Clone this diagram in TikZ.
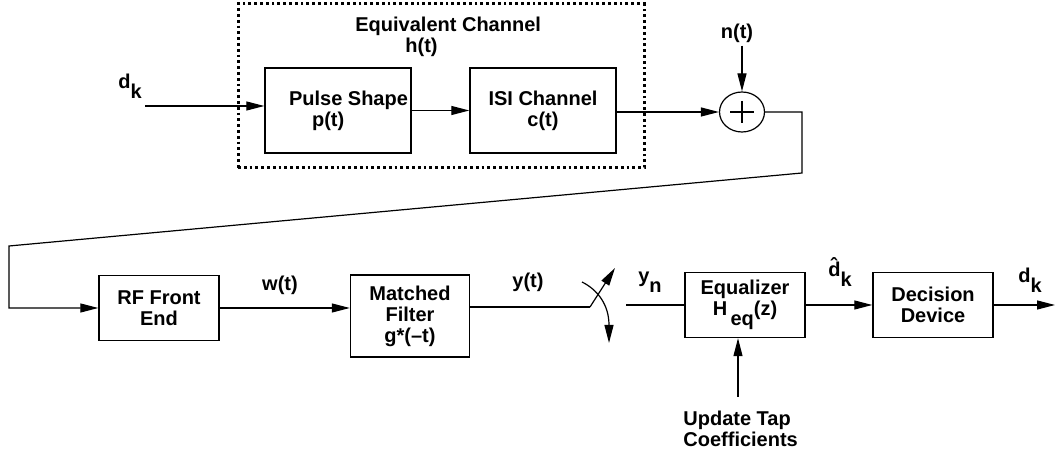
\documentclass[tikz,border=0pt]{standalone}
\usepackage{fontspec}
\setmainfont{Liberation Sans}
\usetikzlibrary{arrows.meta, positioning, calc, shapes.geometric}
\newcommand{\sublow}[1]{\raisebox{-0.5em}{#1}}
\tikzset{
  box/.style={draw, line width=0.7pt, inner sep=0pt, minimum height=32.5pt, minimum width=60pt, align=center, font=\bfseries\fontsize{10}{10.5}\selectfont},
  bigbox/.style={box, minimum height=42.5pt, minimum width=73pt},
  chanbox/.style={draw, line width=1.5pt, dash pattern=on 1.4pt off 1.5pt, minimum width=203pt, minimum height=82pt},
  sumnode/.style={draw, ellipse, line width=0.6pt, minimum width=22.5pt, minimum height=20pt, inner sep=0pt},
  arr/.style={-{Triangle[length=9pt, width=4.5pt]}, line width=0.6pt},
  wire/.style={line width=0.6pt},
  lbl/.style={font=\bfseries\fontsize{10}{10.5}\selectfont, inner sep=0pt, align=left},
}
\begin{document}
\begin{tikzpicture}[x=0.5pt, y=-0.5pt]
    \useasboundingbox (0,0) rectangle (1055,453);
    % transmitter and channel
    \node[chanbox] (chan) at (441,86) {};
    \node[lbl, anchor=north west] (chanlbl) at (355,17) {Equivalent Channel\\\hspace*{25pt}h(t)};
    \node[bigbox, align=left] (pulse) at (338,110.5) {\hspace*{10.5pt}Pulse Shape\\\hspace*{22pt}p(t)};
    \node[bigbox] (isi) at (543,110.5) {ISI Channel\\c(t)};
    \node[sumnode] (sum) at (742,112) {};
    \draw[wire] ($(sum.center)+(-12,0)$) -- ($(sum.center)+(12,0)$);
    \draw[wire] ($(sum.center)+(0,-11)$) -- ($(sum.center)+(0,11)$);
    \node[lbl] (dkin) at (130,86) {d\sublow{k}};
    \node[lbl] (nlbl) at (737,33) {n(t)};
    \coordinate (din) at (145,106);
    \draw[arr] (din) -- (din -| pulse.west);
    \draw[arr] (pulse) -- (isi);
    \draw[arr] (isi.east |- sum) -- (sum);
    \draw[arr] ($(nlbl.south -| sum)+(0,3)$) -- (sum);
    % wire down to the receiver
    \coordinate (bendA) at (802,112);
    \coordinate (bendB) at (802,173);
    \coordinate (bendC) at (9,246);
    \coordinate (bendD) at (9,308);
    % receiver
    \node[box] (rf) at (159,308) {RF Front\\End};
    \node[box, minimum height=41pt, minimum width=59.5pt] (matched) at (410,316) {Matched\\Filter\\g*(--t)};
    \node[box] (eq) at (745,305) {Equalizer\\H\,\sublow{eq}(z)};
    \node[box] (dec) at (933,305) {Decision\\Device};
    \draw[arr] (sum) -- (bendA) -- (bendB) -- (bendC) -- (bendD) -- (bendD -| rf.west);
    \draw[arr] (rf.east) -- (rf.east -| matched.west);
    \node[lbl] (wlbl) at (280,285) {w(t)};
    \node[lbl] (ylbl) at (528,282) {y(t)};
    % sampler
    \coordinate (swin) at (590,307);
    \coordinate (swtip) at (615,268);
    \coordinate (swa) at (582,282);
    \coordinate (swb) at (609,343);
    \coordinate (swout) at (626,305);
    \draw[wire] (swin -| matched.east) -- (swin);
    \draw[arr] (swin) -- (swtip);
    \draw[arr] (swa) .. controls (598,290) and (609,305) .. (swb);
    \draw[wire] (swout) -- (eq.west);
    \node[lbl] (ynlbl) at (650,282) {y\sublow{n}};
    \draw[arr] (eq) -- (dec);
    \node[lbl] (dhat) at (840,272) {\^{d}\sublow{k}};
    \coordinate (dout) at (1055,305);
    \draw[arr] (dec) -- (dout);
    \node[lbl] (dkout) at (1030,280) {d\sublow{k}};
    % tap update
    \node[lbl, anchor=north west] (upd) at (683,411) {Update Tap\\Coefficients};
    \coordinate (updtop) at (738,397);
    \draw[arr] (updtop) -- (updtop |- eq.south);
\end{tikzpicture}
\end{document}
